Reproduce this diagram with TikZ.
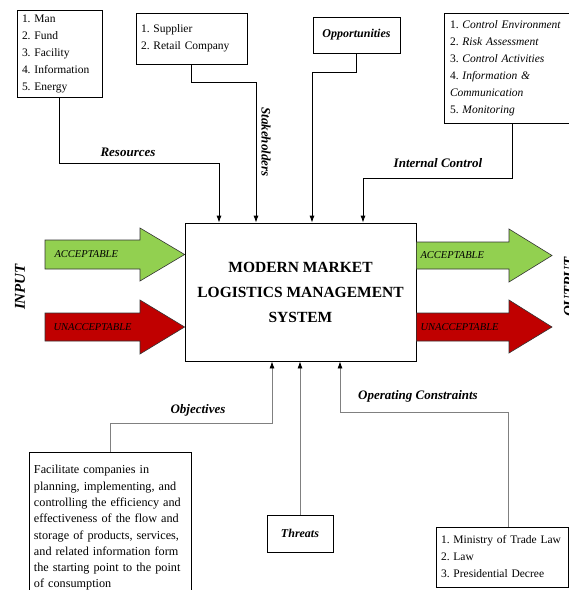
\documentclass[tikz,border=0pt]{standalone}
\usepackage{fontspec}
\setmainfont{Liberation Serif}
\usepackage{xcolor}
\usetikzlibrary{
		calc,
		positioning,
		arrows.meta
	}
\tikzset{
		>={Latex[length=7pt,width=5pt]}
	}
\definecolor{accgreen}{RGB}{146,208,80}
\definecolor{unaccred}{RGB}{192,0,0}
\frenchspacing

\begin{document}
\begin{tikzpicture}[x=1pt, y=-1pt,
				system/.style={draw, line width=0.8pt, minimum width=231pt, minimum height=138pt, align=center,
					font=\fontsize{15.5}{25}\selectfont\bfseries},
				listbox/.style={draw, line width=0.8pt, inner xsep=5pt, inner ysep=3pt, align=left,
					font=\fontsize{11.5}{17}\selectfont},
				tagbox/.style={draw, line width=0.8pt, font=\fontsize{12}{14}\selectfont\bfseries\itshape},
				flow/.style={font=\fontsize{13}{15}\selectfont\bfseries\itshape},
				conn/.style={->, line width=0.8pt},
				connup/.style={-{Latex[length=7pt,width=5pt,color=black]}, line width=0.8pt, draw=gray},
				fatarrow/.style={draw=black!80, line width=0.6pt},
				arrowtext/.style={anchor=west, font=\fontsize{10.5}{12}\selectfont\itshape}]
	\useasboundingbox (0,0) rectangle (569,590);

	% the system
	\node[system] (sys) at (300.5,292) {MODERN MARKET\\LOGISTICS MANAGEMENT\\SYSTEM};

	% boxes above
	\node[listbox, text width=75pt, minimum height=87pt] (res) at (59.5,53.5)
		{1. Man\\2. Fund\\3. Facility\\4. Information\\5. Energy};
	\node[listbox, text width=101pt, minimum height=51pt] (stk) at (191.5,38.5)
		{1. Supplier\\2. Retail Company};
	\node[tagbox, minimum width=87pt, minimum height=36pt] (opp) at (356.5,35) {Opportunities};
	\node[listbox, inner xsep=6pt, text width=116pt, minimum height=110pt] (ic) at (508,68)
		{1. \textit{Control Environment}\\2. \textit{Risk Assessment}\\3. \textit{Control Activities}\\
		 4. \textit{Information \&}\\\textit{Communication}\\5. \textit{Monitoring}};

	% boxes below
	\node[listbox, font=\fontsize{12.2}{16.3}\selectfont, inner xsep=5pt, text width=152pt, minimum height=152pt] (obj) at (110,528)
		{Facilitate companies in\\planning, implementing, and\\controlling the efficiency and\\effectiveness of the flow and\\
		 storage of products, services,\\and related information form\\the starting point to the point\\of consumption};
	\node[tagbox, minimum width=66pt, minimum height=37pt] (thr) at (300,533.5) {Threats};
	\node[listbox, text width=122pt, minimum height=60pt] (opc) at (502,557)
		{1. Ministry of Trade Law\\2. Law\\3. Presidential Decree};

	% bends
	\coordinate (bendR) at (219,163);
	\coordinate (bendS) at (256,82);
	\coordinate (bendO) at (312,72);
	\coordinate (bendI) at (363,178);
	\coordinate (bendJ) at (272,423);
	\coordinate (bendC) at (340,412);

	% connectors into the top
	\draw[conn] (res.south) |- (bendR) -- (bendR |- sys.north);
	\draw[conn] (stk.south) |- (bendS) -- (bendS |- sys.north);
	\draw[conn] (opp.south) |- (bendO) -- (bendO |- sys.north);
	\draw[conn] ([xshift=4pt]ic.south) |- (bendI) -- (bendI |- sys.north);

	% connectors into the bottom
	\draw[connup] (obj.north) |- (bendJ) -- (bendJ |- sys.south);
	\draw[connup] (thr.north) -- (thr.north |- sys.south);
	\draw[connup] ([xshift=6pt]opc.north) |- (bendC) -- (bendC |- sys.south);

	% connector labels
	\node[flow] (lres) at (128,152) {Resources};
	\node[flow, rotate=-90] (lstk) at (266,142) {Stakeholders};
	\node[flow] (lic) at (438,163) {Internal Control};
	\node[flow] (lobj) at (198,410) {Objectives};
	\node[flow] (lopc) at (418,396) {Operating Constraints};

	% input side
	\draw[fatarrow, fill=accgreen] (45,240) -- (140,240) -- (140,228) -- (sys.west |- 0,254.5)
		-- (140,281) -- (140,269) -- (45,269) -- cycle;
	\draw[fatarrow, fill=unaccred] (45,313) -- (140,313) -- (140,300) -- (sys.west |- 0,327)
		-- (140,354) -- (140,341) -- (45,341) -- cycle;
	\node[arrowtext] (inacc) at (51,254.5) {ACCEPTABLE};
	\node[arrowtext] (inunacc) at (50,327) {UNACCEPTABLE};
	\node[flow, font=\fontsize{15}{17}\selectfont\bfseries\itshape, rotate=90] (input) at (20,287) {INPUT};

	% output side
	\draw[fatarrow, fill=accgreen] (sys.east |- 0,242) -- (509,242) -- (509,229) -- (552,255.5)
		-- (509,282) -- (509,269) -- (sys.east |- 0,269) -- cycle;
	\draw[fatarrow, fill=unaccred] (sys.east |- 0,313) -- (509,313) -- (509,300) -- (552,327)
		-- (509,353) -- (509,341) -- (sys.east |- 0,341) -- cycle;
	\node[arrowtext] (outacc) at (417,255.5) {ACCEPTABLE};
	\node[arrowtext] (outunacc) at (417,327) {UNACCEPTABLE};
	\node[flow, font=\fontsize{15}{17}\selectfont\bfseries\itshape, rotate=90] (output) at (569,287) {OUTPUT};
\end{tikzpicture}
\end{document}
